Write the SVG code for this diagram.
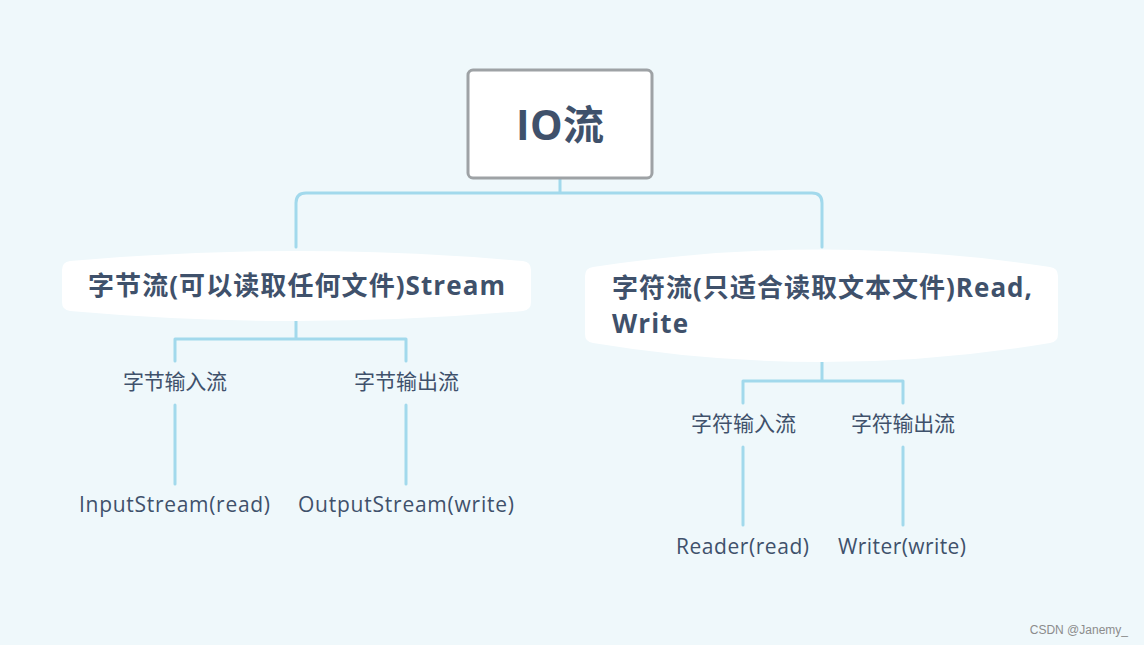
<svg xmlns="http://www.w3.org/2000/svg" width="1144" height="645" viewBox="0 0 1144 645">
<style>
.t{font-family:"Open Sans","Noto Sans CJK SC",sans-serif;fill:#3F516B}
.b{font-weight:bold}
.n{font-size:21px}
.h{font-size:26px}
.c{fill:none;stroke:#A2D9EC;stroke-width:3;stroke-linecap:round;stroke-linejoin:round}
.shape{fill:#FFFFFF}
</style>
<rect width="1144" height="645" fill="#EFF8FB"/>
<g id="connectors">
<path class="c" d="M560 178 V193 M296 247 V203 Q296 193 306 193 H812 Q822 193 822 203 V247"/>
<path class="c" d="M296 320 V339 M175 361 V339 H406 V361"/>
<path class="c" d="M175 405 V484 M406 405 V484"/>
<path class="c" d="M822 362 V381 M743 403 V381 H903 V403"/>
<path class="c" d="M743 447 V525 M903 447 V525"/>
</g>
<g id="root">
<rect x="468" y="70" width="184" height="108" rx="5" fill="#FFFFFF" stroke="#9EA2A5" stroke-width="3"/>
<text class="t b" x="516" y="140" font-size="41" textLength="88">IO流</text>
</g>
<g id="byte-stream">
<path class="shape" d="M70 261 Q296 241 523 261 Q531 262 531 270 V302 Q531 310 523 311 Q296 331 70 311 Q62 310 62 302 V270 Q62 262 70 261 Z"/>
<text class="t b h" x="88" y="295" textLength="417">字节流(可以读取任何文件)Stream</text>
</g>
<g id="char-stream">
<path class="shape" d="M593 267 Q822 232 1050 267 Q1058 268 1058 276 V334 Q1058 342 1050 343 Q822 381 593 343 Q585 342 585 334 V276 Q585 268 593 267 Z"/>
<text class="t b h" x="612" y="297" textLength="420">字符流(只适合读取文本文件)Read,</text>
<text class="t b h" x="612" y="333" textLength="76">Write</text>
</g>
<g id="byte-input"><text class="t n" x="123" y="389" textLength="104">字节输入流</text></g>
<g id="byte-output"><text class="t n" x="354" y="389" textLength="105">字节输出流</text></g>
<g id="inputstream"><text class="t n" x="79" y="512" textLength="191">InputStream(read)</text></g>
<g id="outputstream"><text class="t n" x="298" y="512" textLength="216">OutputStream(write)</text></g>
<g id="char-input"><text class="t n" x="691" y="431" textLength="105">字符输入流</text></g>
<g id="char-output"><text class="t n" x="851" y="431" textLength="104">字符输出流</text></g>
<g id="reader"><text class="t n" x="676" y="554" textLength="133">Reader(read)</text></g>
<g id="writer"><text class="t n" x="838" y="554" textLength="128">Writer(write)</text></g>
<text x="1128" y="634" font-family="Liberation Sans,sans-serif" font-size="12" fill="#8C8C8C" text-anchor="end">CSDN @Janemy_</text>
</svg>
